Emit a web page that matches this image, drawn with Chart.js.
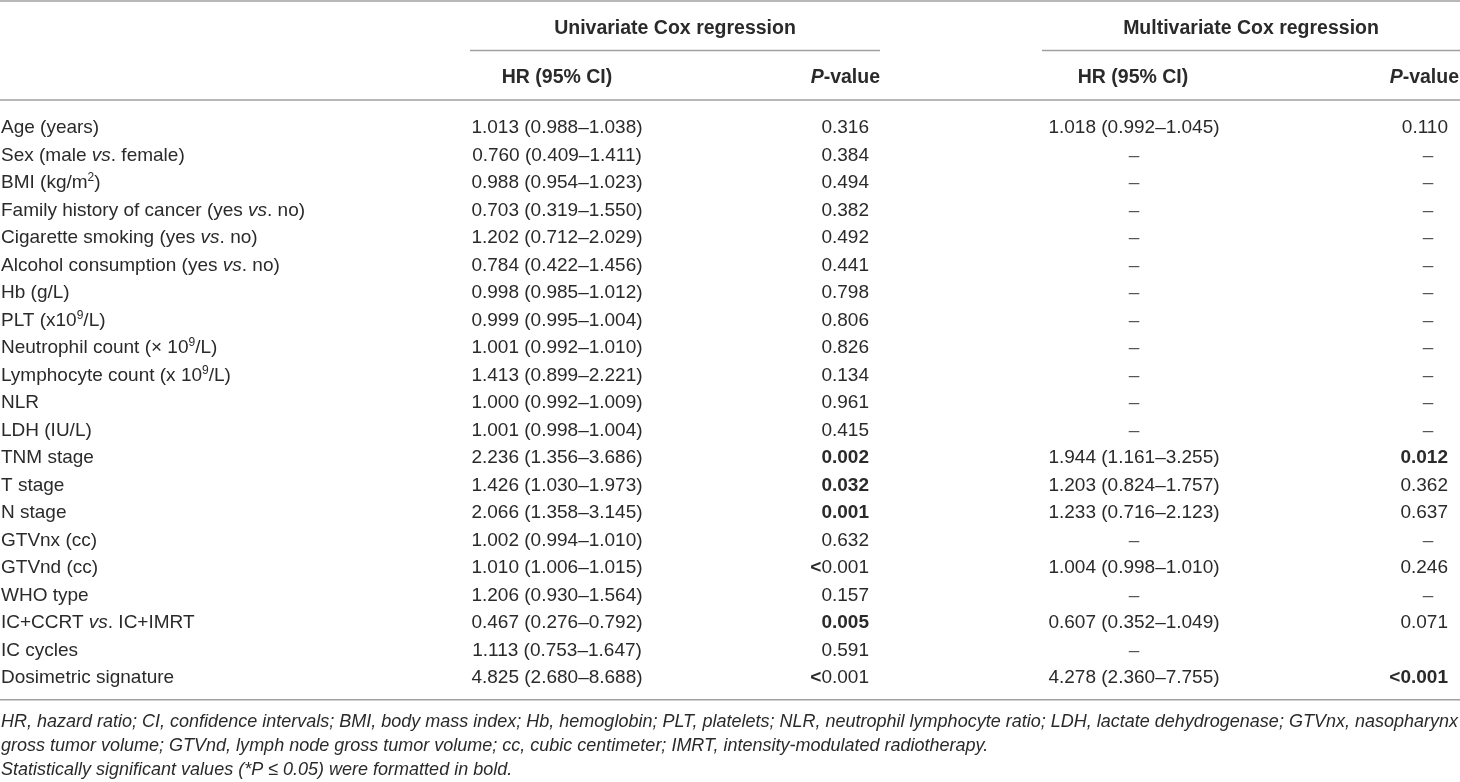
<!DOCTYPE html>
<html>
<head>
<meta charset="utf-8">
<script src="https://cdn.jsdelivr.net/npm/chart.js@4.4.1/dist/chart.umd.min.js"></script>
<style>
html,body{margin:0;padding:0;background:#fff;overflow:hidden}
#wrap{width:1460px;height:782px;position:relative}
</style>
</head>
<body>
<div id="wrap"><canvas id="c"></canvas></div>
<script>
// ---------- DATA ----------
const variables = [
  "Age (years)", "Sex (male _vs_. female)", "BMI (kg/m^2^)",
  "Family history of cancer (yes _vs_. no)", "Cigarette smoking (yes _vs_. no)",
  "Alcohol consumption (yes _vs_. no)", "Hb (g/L)", "PLT (x10^9^/L)",
  "Neutrophil count (× 10^9^/L)", "Lymphocyte count (x 10^9^/L)", "NLR", "LDH (IU/L)",
  "TNM stage", "T stage", "N stage", "GTVnx (cc)", "GTVnd (cc)", "WHO type",
  "IC+CCRT _vs_. IC+IMRT", "IC cycles", "Dosimetric signature"
];
const uniHR = [1.013,0.760,0.988,0.703,1.202,0.784,0.998,0.999,1.001,1.413,1.000,1.001,2.236,1.426,2.066,1.002,1.010,1.206,0.467,1.113,4.825];
const uniLo = [0.988,0.409,0.954,0.319,0.712,0.422,0.985,0.995,0.992,0.899,0.992,0.998,1.356,1.030,1.358,0.994,1.006,0.930,0.276,0.753,2.680];
const uniHi = [1.038,1.411,1.023,1.550,2.029,1.456,1.012,1.004,1.010,2.221,1.009,1.004,3.686,1.973,3.145,1.010,1.015,1.564,0.792,1.647,8.688];
const uniP = ["0.316","0.384","0.494","0.382","0.492","0.441","0.798","0.806","0.826","0.134","0.961","0.415",
  "**0.002**","**0.032**","**0.001**","0.632","**<**0.001","0.157","**0.005**","0.591","**<**0.001"];
const multiHR = [1.018,null,null,null,null,null,null,null,null,null,null,null,1.944,1.203,1.233,null,1.004,null,0.607,null,4.278];
const multiLo = [0.992,null,null,null,null,null,null,null,null,null,null,null,1.161,0.824,0.716,null,0.998,null,0.352,null,2.360];
const multiHi = [1.045,null,null,null,null,null,null,null,null,null,null,null,3.255,1.757,2.123,null,1.010,null,1.049,null,7.755];
const multiP = ["0.110","–","–","–","–","–","–","–","–","–","–","–",
  "**0.012**","0.362","0.637","–","0.246","–","0.071","","**<0.001**"];
const groupHeaders = ["Univariate Cox regression", "Multivariate Cox regression"];
const columnHeaders = ["HR (95% CI)", "_P_-value", "HR (95% CI)", "_P_-value"];
const footnotes = [
  "HR, hazard ratio; CI, confidence intervals; BMI, body mass index; Hb, hemoglobin; PLT, platelets; NLR, neutrophil lymphocyte ratio; LDH, lactate dehydrogenase; GTVnx, nasopharynx",
  "gross tumor volume; GTVnd, lymph node gross tumor volume; cc, cubic centimeter; IMRT, intensity-modulated radiotherapy.",
  "Statistically significant values (*P ≤ 0.05) were formatted in bold."
];

// ---------- LAYOUT / STYLE ----------
const FAMILY = "'Liberation Sans',Arial,Helvetica,sans-serif";
const BODY_SIZE = 19;
const HEAD_SIZE = 19.5;
const FOOT_SIZE = 19;
const FOOT_WIDTH = 1457;   // first footnote line spans the table width
const TEXT = '#2a2a2a';
const RULE = '#a0a0a0';
// column anchors on the x scale (0..1460) and alignment
const COLS = [
  {x: 1,    align: 'left'},
  {x: 557,  align: 'center'},
  {x: 869,  align: 'right'},
  {x: 1134, align: 'center'},
  {x: 1448, align: 'right', dashX: 1428}
];
const GROUP_SPANS = [[470, 880], [1042, 1460]];
const HEADER_ANCHORS = [{x:557,align:'center'},{x:880,align:'right'},{x:1133,align:'center'},{x:1459,align:'right'}];

function fmtHR(h, l, u) {
  if (h === null) return '–';
  return h.toFixed(3) + ' (' + l.toFixed(3) + '–' + u.toFixed(3) + ')';
}

const cellText = [
  variables,
  uniHR.map((h, i) => fmtHR(h, uniLo[i], uniHi[i])),
  uniP,
  multiHR.map((h, i) => fmtHR(h, multiLo[i], multiHi[i])),
  multiP
];

// ---------- rich text ----------
function parseRich(s) {
  const segs = []; let b = false, it = false, sup = false, buf = '';
  const push = () => { if (buf) { segs.push({t: buf, b, it, sup}); buf = ''; } };
  for (let k = 0; k < s.length; k++) {
    if (s.startsWith('**', k)) { push(); b = !b; k++; continue; }
    if (s[k] === '_') { push(); it = !it; continue; }
    if (s[k] === '^') { push(); sup = !sup; continue; }
    buf += s[k];
  }
  push();
  return segs;
}
function segFont(seg, base) {
  const size = seg.sup ? Math.round(base.size * 0.62) : base.size;
  const italic = (seg.it || base.italic) ? 'italic ' : '';
  const bold = (seg.b || base.bold) ? 'bold ' : '';
  return italic + bold + size + 'px ' + FAMILY;
}
function measureRich(ctx, str, base) {
  let w = 0;
  parseRich(str).forEach(s => { ctx.font = segFont(s, base); w += ctx.measureText(s.t).width; });
  return w;
}
function drawRich(ctx, str, x, y, align, base) {
  const segs = parseRich(str);
  const sx = base.scaleX || 1;
  let w = 0;
  segs.forEach(s => { ctx.font = segFont(s, base); s.w = ctx.measureText(s.t).width * sx; w += s.w; });
  let cx = align === 'left' ? x : align === 'right' ? x - w : x - w / 2;
  ctx.textAlign = 'left';
  ctx.textBaseline = 'alphabetic';
  segs.forEach(s => {
    ctx.font = segFont(s, base);
    ctx.fillStyle = base.color || TEXT;
    const dy = s.sup ? -base.size * 0.38 : 0;
    ctx.save();
    ctx.translate(cx, y + dy);
    ctx.scale(sx, 1);
    ctx.fillText(s.t, 0, 0);
    ctx.restore();
    cx += s.w;
  });
}
function rule(ctx, x1, x2, y) {
  ctx.save();
  ctx.strokeStyle = RULE; ctx.lineWidth = 1.5;
  ctx.beginPath(); ctx.moveTo(x1, y); ctx.lineTo(x2, y); ctx.stroke();
  ctx.restore();
}

// ---------- table plugin ----------
const tablePlugin = {
  id: 'tableCells',
  afterDatasetsDraw(chart) {
    const ctx = chart.ctx;
    const area = chart.chartArea;
    const xs = chart.scales.x;
    const base = {size: BODY_SIZE};
    const off = BODY_SIZE * 0.36 + 0.5; // baseline offset from row centre
    ctx.save();
    // cells
    chart.data.datasets.forEach((ds, di) => {
      const meta = chart.getDatasetMeta(di);
      const col = COLS[di];
      meta.data.forEach((el, ri) => {
        const txt = cellText[di][ri];
        if (!txt) return;
        if (txt === '–') {
          const dx = col.dashX !== undefined ? xs.getPixelForValue(col.dashX) : el.x;
          drawRich(ctx, txt, dx, el.y + off, 'center', {size: BODY_SIZE, color: '#555'});
        } else {
          drawRich(ctx, txt, el.x, el.y + off, col.align, base);
        }
      });
    });
    // header
    const top = area.top;
    rule(ctx, 0, chart.width, top - 111.25);
    groupHeaders.forEach((g, gi) => {
      const [a, b] = GROUP_SPANS[gi];
      const xa = xs.getPixelForValue(a), xb = xs.getPixelForValue(b);
      drawRich(ctx, g, (xa + xb) / 2, top - 85.5 + HEAD_SIZE * 0.36, 'center', {size: HEAD_SIZE, bold: true});
      rule(ctx, xa, xb, top - 61.75);
    });
    columnHeaders.forEach((h, hi) => {
      const an = HEADER_ANCHORS[hi];
      drawRich(ctx, h, xs.getPixelForValue(an.x), top - 36 + HEAD_SIZE * 0.36, an.align, {size: HEAD_SIZE, bold: true});
    });
    rule(ctx, 0, chart.width, top - 12.25);
    // bottom rule + footnotes
    const bot = area.bottom;
    rule(ctx, 0, chart.width, bot + 10);
    const fbase = {size: FOOT_SIZE, italic: true};
    const w0 = measureRich(ctx, footnotes[0], fbase);
    fbase.scaleX = Math.min(1, FOOT_WIDTH / w0);
    footnotes.forEach((f, fi) => {
      drawRich(ctx, f, 1, bot + 37.25 + fi * 24, 'left', fbase);
    });
    ctx.restore();
  }
};

const datasets = COLS.map((c, di) => ({
  label: 'col' + di,
  data: variables.map(v => ({x: c.x, y: v})),
  pointRadius: 0,
  pointHoverRadius: 0,
  showLine: false
}));

new Chart(document.getElementById('c'), {
  type: 'scatter',
  data: {datasets},
  options: {
    responsive: true,
    maintainAspectRatio: false,
    animation: false,
    events: [],
    layout: {padding: {top: 112.25, bottom: 92.25, left: 0, right: 0}},
    plugins: {legend: {display: false}, tooltip: {enabled: false}},
    scales: {
      x: {type: 'linear', min: 0, max: 1460, display: false},
      y: {type: 'category', labels: variables, offset: true, display: false}
    }
  },
  plugins: [tablePlugin]
});
</script>
</body>
</html>
